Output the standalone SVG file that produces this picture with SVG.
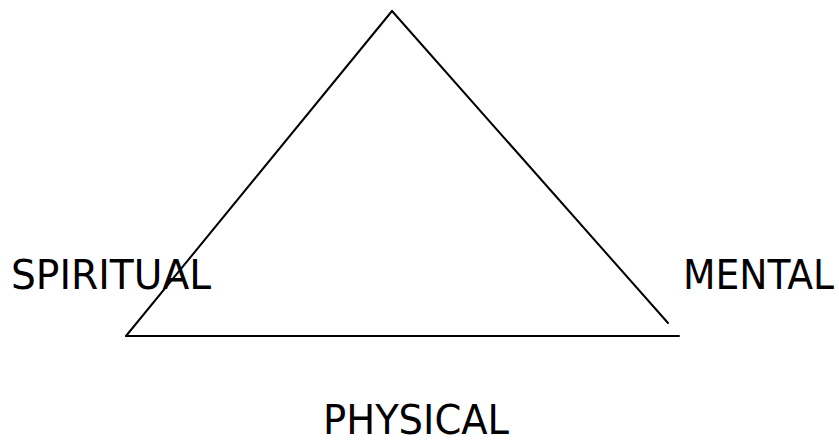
<svg xmlns="http://www.w3.org/2000/svg" width="839" height="444" viewBox="0 0 839 444">
<style>
.edge{stroke:#000;stroke-width:2;fill:none;stroke-linecap:round}
.lbl{font-family:"DejaVu Sans Condensed","DejaVu Sans",sans-serif;font-size:41px;fill:#000}
</style>
<rect width="839" height="444" fill="#fff"/>
<g id="connectors">
<line class="edge" x1="392" y1="11" x2="126" y2="336"/>
<line class="edge" x1="392" y1="11" x2="668" y2="323"/>
<line class="edge" x1="126" y1="336" x2="679" y2="336"/>
</g>
<g id="spiritual"><text class="lbl" x="11" y="289" textLength="200" lengthAdjust="spacingAndGlyphs">SPIRITUAL</text></g>
<g id="mental"><text class="lbl" x="683" y="289" textLength="151" lengthAdjust="spacingAndGlyphs">MENTAL</text></g>
<g id="physical"><text class="lbl" x="323" y="434" textLength="186" lengthAdjust="spacingAndGlyphs">PHYSICAL</text></g>
</svg>
